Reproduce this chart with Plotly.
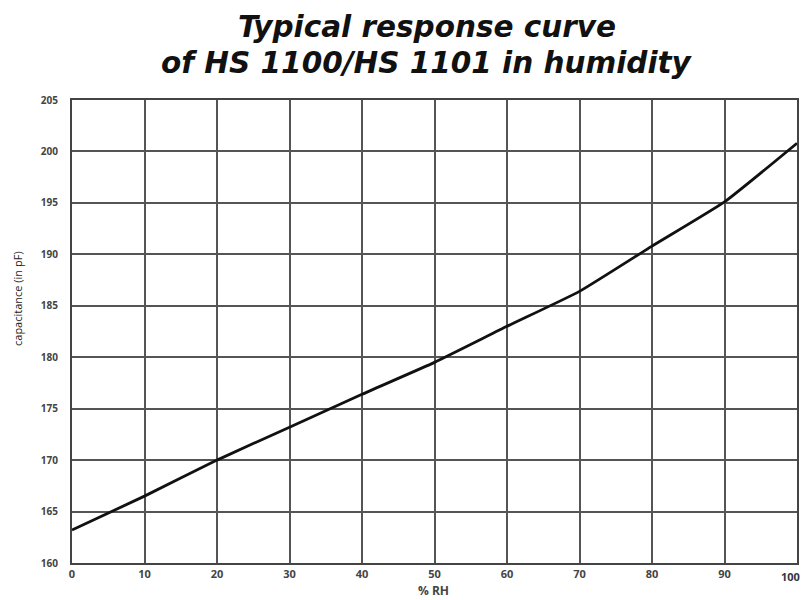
import plotly.graph_objects as go

rh = [0, 10, 20, 30, 40, 50, 60, 70, 80, 90, 100]
cap = [163.2, 166.5, 170.0, 173.2, 176.4, 179.5, 183.0, 186.4, 190.8, 195.1, 200.8]

x_ticks = [0, 10, 20, 30, 40, 50, 60, 70, 80, 90, 100]
y_ticks = [160, 165, 170, 175, 180, 185, 190, 195, 200, 205]

title_lines = ["Typical response curve", "of HS 1100/HS 1101 in humidity"]

W, H = 803, 600
L, R, T, B = 72, 6, 100, 37
PW, PH = W - L - R, H - T - B


def px(fx):
    return (fx - L) / PW


def py(fy):
    return (H - B - fy) / PH


fig = go.Figure()
fig.add_trace(go.Scatter(x=rh, y=cap, mode="lines",
                         line=dict(color="#111111", width=2.8, shape="spline", smoothing=0.4),
                         showlegend=False))

ann = []
for i, t in enumerate(title_lines):
    ann.append(dict(text=f"<b><i>{t}</i></b>", xref="paper", yref="paper",
                    x=px(427), y=py(46 + 36 * i), xanchor="center", yanchor="bottom",
                    showarrow=False, font=dict(family="DejaVu Sans", size=29.5, color="#111111")))
ann.append(dict(text="<b>% RH</b>", xref="paper", yref="paper", x=px(433), y=py(590),
                xanchor="center", yanchor="middle", showarrow=False,
                font=dict(family="Open Sans", size=12, color="#444444")))
ann.append(dict(text="capacitance (in pF)", xref="paper", yref="paper", x=px(17),
                y=py(299), xanchor="center", yanchor="middle", textangle=-90,
                showarrow=False, font=dict(family="Open Sans", size=11, color="#222222")))
# last x tick label sits right-aligned at the window edge
ann.append(dict(text=f"<b>{x_ticks[-1]}</b>", xref="paper", yref="paper", x=px(802), y=py(576),
                xanchor="right", yanchor="middle", showarrow=False,
                font=dict(family="Open Sans", size=11, color="#333344")))

fig.update_layout(
    width=W, height=H,
    margin=dict(l=L, r=R, t=T, b=B, autoexpand=False),
    paper_bgcolor="white", plot_bgcolor="white",
    font=dict(family="Open Sans", color="#333333"),
    annotations=ann,
)
xt = [f"<b>{v}</b>" for v in x_ticks]
xt[-1] = ""
fig.update_xaxes(range=[0, 100], tickvals=x_ticks, ticktext=xt,
                 showgrid=True, gridcolor="#555555", gridwidth=1.5,
                 showline=True, linecolor="#444444", linewidth=2, mirror=True,
                 ticks="", tickfont=dict(size=11, color="#444444"), ticklabeloverflow="allow",
                 automargin=False, zeroline=False)
fig.update_yaxes(range=[160, 205], tickvals=y_ticks, ticktext=[f"<b>{v}</b>" for v in y_ticks],
                 showgrid=True, gridcolor="#555555", gridwidth=1.5,
                 showline=True, linecolor="#444444", linewidth=2, mirror=True,
                 ticks="", tickfont=dict(size=10, color="#444444"), ticklabelstandoff=10,
                 automargin=False, zeroline=False)

fig.write_html("out.html", config={"displayModeBar": False},
               post_script="document.body.style.margin='0';document.body.style.overflow='hidden';")
